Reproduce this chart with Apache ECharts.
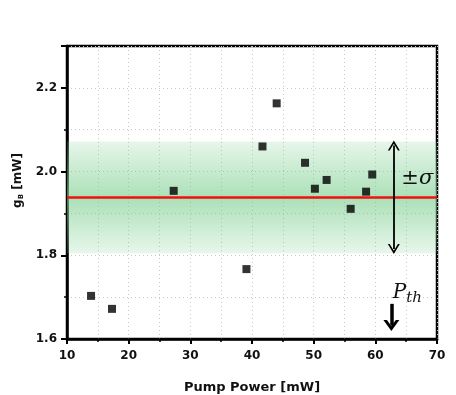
<!DOCTYPE html>
<html>
<head>
<meta charset="utf-8">
<script src="https://cdn.jsdelivr.net/npm/echarts@6/dist/echarts.min.js"></script>
<style>
  html, body { margin: 0; padding: 0; background: #fff; }
  #main { width: 456px; height: 395px; }
</style>
</head>
<body>
<div id="main"></div>
<script>
  // measured points
  var pumpPower = [13.9, 17.3, 27.3, 39.1, 41.7, 44.0, 48.6, 50.2, 52.1, 56.0, 58.5, 59.5];
  var gainB = [1.703, 1.672, 1.954, 1.767, 2.060, 2.163, 2.021, 1.959, 1.980, 1.911, 1.952, 1.993];
  // mean and sigma band
  var meanG = 1.939;
  var bandLow = 1.805;
  var bandHigh = 2.072;
  var xTicks = [10, 20, 30, 40, 50, 60, 70];
  var yTicks = [1.6, 1.8, 2.0, 2.2];

  var chart = echarts.init(document.getElementById('main'));
  var font = 'DejaVu Sans, sans-serif';
  var serif = 'DejaVu Serif, serif';
  // open arrow heads (apex up, rotated by the markLine)
  var chevron = 'path://M0,0 L6,10 L4.1,10 L0,3.2 L-4.1,10 L-6,10 Z';
  var bigChevron = 'path://M0,0 L8,10 L4.4,10 L0,4.6 L-4.4,10 L-8,10 Z';
  var dotted = { color: '#c8c8c8', type: [1, 3], width: 1 };

  var pts = [];
  for (var i = 0; i < pumpPower.length; i++) pts.push([pumpPower[i], gainB[i]]);

  chart.setOption({
    animation: false,
    grid: { left: 67, right: 19, top: 46, bottom: 56, show: true, borderColor: '#000', borderWidth: 2.5,
            outerBoundsMode: 'none', containLabel: false },
    xAxis: {
      type: 'value', min: xTicks[0], max: xTicks[xTicks.length - 1], interval: 10,
      name: 'Pump Power [mW]', nameLocation: 'middle', nameGap: 42,
      nameTextStyle: { fontFamily: font, fontWeight: 'bold', fontSize: 13, color: '#111' },
      axisLine: { lineStyle: { color: '#000', width: 2.5 } },
      axisTick: { length: 5, lineStyle: { color: '#000', width: 2 } },
      minorTick: { show: true, splitNumber: 2, length: 3, lineStyle: { color: '#000', width: 1.5 } },
      splitLine: { show: true, lineStyle: dotted },
      minorSplitLine: { show: true, lineStyle: dotted },
      axisLabel: { fontFamily: font, fontWeight: 'bold', fontSize: 12, color: '#111', margin: 11 }
    },
    yAxis: {
      type: 'value', min: yTicks[0], max: 2.3, interval: 0.2,
      name: '{g|g}{s|B}{g| [mW]}', nameLocation: 'middle', nameGap: 37, nameRotate: 90,
      nameTextStyle: {
        padding: [0, 0, 0, 24],
        rich: {
          g: { fontFamily: font, fontWeight: 'bold', fontSize: 12, color: '#111' },
          s: { fontFamily: font, fontWeight: 'bold', fontSize: 7, color: '#111', verticalAlign: 'bottom', padding: [6, 0, 0, 0] }
        }
      },
      axisLine: { lineStyle: { color: '#000', width: 2.5 } },
      axisTick: { length: 6, lineStyle: { color: '#000', width: 2 } },
      minorTick: { show: true, splitNumber: 2, length: 3, lineStyle: { color: '#000', width: 1.5 } },
      splitLine: { show: true, lineStyle: dotted },
      minorSplitLine: { show: true, lineStyle: dotted },
      axisLabel: {
        fontFamily: font, fontWeight: 'bold', fontSize: 12, color: '#111', margin: 10,
        formatter: function (v) { return v > 2.25 ? '' : v.toFixed(1); }
      }
    },
    series: [{
      type: 'scatter',
      data: pts,
      symbol: 'rect',
      symbolSize: 8,
      itemStyle: { color: '#000' },
      z: 5,
      markArea: {
        silent: true,
        itemStyle: {
          color: new echarts.graphic.LinearGradient(0, 0, 0, 1, [
            { offset: 0, color: 'rgba(120,205,140,0.18)' },
            { offset: 0.5, color: 'rgba(120,205,140,0.62)' },
            { offset: 1, color: 'rgba(120,205,140,0.18)' }
          ])
        },
        data: [[{ yAxis: bandLow }, { yAxis: bandHigh }]]
      },
      markLine: {
        silent: true,
        animation: false,
        label: { show: false },
        data: [
          [{ coord: [xTicks[0], meanG], symbol: 'none' },
           { coord: [xTicks[xTicks.length - 1], meanG], symbol: 'none',
             lineStyle: { color: '#f01010', width: 2.5, type: 'solid' } }],
          [{ coord: [63, bandLow + 0.01], symbol: chevron, symbolSize: [12, 10] },
           { coord: [63, bandHigh - 0.01], symbol: chevron, symbolSize: [12, 10],
             lineStyle: { color: '#000', width: 1.8, type: 'solid' } }],
          [{ coord: [62.6, 1.684], symbol: 'none' },
           { coord: [62.6, 1.632], symbol: bigChevron, symbolSize: [16, 11],
             lineStyle: { color: '#000', width: 3.5, type: 'solid' } }]
        ]
      },
      markPoint: {
        silent: true,
        symbol: 'circle',
        symbolSize: 0,
        data: [
          { coord: [66.8, 1.984], label: { show: true, position: 'inside',
            formatter: '{a|±}{b|σ}',
            rich: {
              a: { fontFamily: serif, fontSize: 21, color: '#111' },
              b: { fontFamily: serif, fontStyle: 'italic', fontSize: 21, color: '#111' }
            } } },
          { coord: [65.2, 1.71], label: { show: true, position: 'inside',
            formatter: '{p|P}{s|th}',
            rich: {
              p: { fontFamily: serif, fontStyle: 'italic', fontSize: 20, color: '#111' },
              s: { fontFamily: serif, fontStyle: 'italic', fontSize: 15, color: '#111', padding: [10, 0, 0, 0] }
            } } }
        ]
      }
    }]
  });
</script>
</body>
</html>
